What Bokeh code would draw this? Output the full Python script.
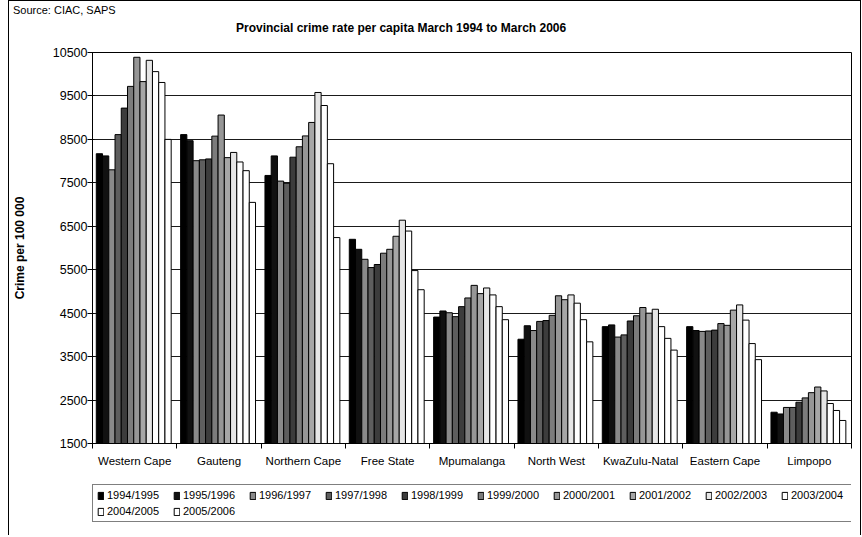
from bokeh.plotting import figure
from bokeh.layouts import column
from bokeh.models import (Range1d, FixedTicker, Legend, LegendItem, ColumnDataSource, Div)
from bokeh.embed import file_html
from bokeh.resources import INLINE

provinces = ["Western Cape", "Gauteng", "Northern Cape", "Free State", "Mpumalanga",
             "North West", "KwaZulu-Natal", "Eastern Cape", "Limpopo"]
years = ["1994/1995", "1995/1996", "1996/1997", "1997/1998", "1998/1999", "1999/2000",
         "2000/2001", "2001/2002", "2002/2003", "2003/2004", "2004/2005", "2005/2006"]

western_cape = [8170, 8120, 7800, 8610, 9220, 9720, 10390, 9830, 10320, 10060, 9810, 8500]
gauteng = [8610, 8470, 8010, 8030, 8050, 8575, 9060, 8080, 8200, 7980, 7780, 7050]
northern_cape = [7670, 8120, 7540, 7490, 8090, 8330, 8580, 8890, 9580, 9280, 7940, 6240]
free_state = [6200, 5970, 5740, 5550, 5620, 5880, 5970, 6270, 6640, 6390, 5480, 5040]
mpumalanga = [4410, 4550, 4510, 4420, 4650, 4850, 5140, 4950, 5080, 4920, 4650, 4350]
north_west = [3900, 4210, 4100, 4310, 4330, 4450, 4900, 4810, 4920, 4730, 4350, 3840]
kwazulu_natal = [4190, 4230, 3950, 4000, 4320, 4440, 4630, 4500, 4590, 4190, 3920, 3650]
eastern_cape = [4190, 4100, 4080, 4090, 4110, 4260, 4220, 4570, 4690, 4340, 3800, 3430]
limpopo = [2220, 2180, 2330, 2330, 2450, 2550, 2670, 2800, 2710, 2420, 2260, 2030]

rows = [western_cape, gauteng, northern_cape, free_state, mpumalanga,
        north_west, kwazulu_natal, eastern_cape, limpopo]

y_ticks = [1500, 2500, 3500, 4500, 5500, 6500, 7500, 8500, 9500, 10500]
baseline = 1500

colors = ["#000000", "#111111", "#8a8a8a", "#5e5e5e", "#3c3c3c", "#7c7c7c",
          "#969696", "#a6a6a6", "#e6e6e6", "#ffffff", "#ffffff", "#ffffff"]

FONT = "Liberation Sans"
W = 851

# source line and chart title at the top
src_div = Div(text="Source: CIAC, SAPS", width=W - 4, height=14, margin=(2, 0, 0, 4),
              styles={"font-family": FONT, "font-size": "11px", "line-height": "14px",
                      "color": "black", "white-space": "nowrap"})
title_div = Div(text="Provincial crime rate per capita March 1994 to March 2006",
                width=W - 227, height=14, margin=(4, 0, 0, 227),
                styles={"font-family": FONT, "font-size": "12px", "font-weight": "bold",
                        "line-height": "14px", "color": "black", "white-space": "nowrap"})

p = figure(width=W, height=438, output_backend="svg", toolbar_location=None,
           x_range=Range1d(0, len(provinces)), y_range=Range1d(1500, 10500),
           min_border_left=79, min_border_right=9, min_border_top=17, min_border_bottom=30)
p.background_fill_color = "white"
p.border_fill_color = "white"
p.outline_line_color = "black"
p.outline_line_width = 1

# grid
p.xgrid.grid_line_color = None
p.ygrid.grid_line_color = "#1a1a1a"
p.ygrid.grid_line_width = 1
p.ygrid.ticker = FixedTicker(ticks=y_ticks)

# y axis
p.yaxis.ticker = FixedTicker(ticks=y_ticks)
p.yaxis.axis_label = "Crime per 100 000"
p.yaxis.axis_label_text_font = FONT
p.yaxis.axis_label_text_font_style = "bold"
p.yaxis.axis_label_text_font_size = "12px"
p.yaxis.axis_label_text_color = "black"
p.yaxis.axis_label_standoff = 23
p.yaxis.major_label_text_font = FONT
p.yaxis.major_label_text_font_size = "12.5px"
p.yaxis.major_label_text_color = "black"
p.yaxis.major_label_standoff = 0
p.yaxis.major_tick_out = 5
p.yaxis.major_tick_in = 2
p.yaxis.minor_tick_line_color = None
p.yaxis.axis_line_color = "black"
p.yaxis.major_tick_line_color = "black"

# x axis: labels at centres, ticks at category boundaries
centers = [i + 0.5 for i in range(len(provinces))]
bounds = list(range(len(provinces) + 1))
p.xaxis.ticker = FixedTicker(ticks=centers, minor_ticks=bounds)
p.xaxis.major_label_overrides = {c: name for c, name in zip(centers, provinces)}
p.xaxis.major_tick_line_color = None
p.xaxis.minor_tick_out = 5
p.xaxis.minor_tick_in = 0
p.xaxis.minor_tick_line_color = "black"
p.xaxis.major_label_text_font = FONT
p.xaxis.major_label_text_font_size = "11.5px"
p.xaxis.major_label_text_color = "black"
p.xaxis.major_label_standoff = 5
p.xaxis.axis_line_color = "black"

# bars
group_start = 0.045
bar_w = 0.074
for j, yr in enumerate(years):
    xs = [i + group_start + bar_w * (j + 0.5) for i in range(len(provinces))]
    tops = [r[j] for r in rows]
    src = ColumnDataSource(dict(x=xs, top=tops))
    p.vbar(x="x", top="top", bottom=baseline, width=bar_w, source=src,
           fill_color=colors[j], line_color="black", line_width=1)

# legend strip below the chart (frame is aligned with the chart frame by the column)
pl = figure(width=W, height=62, output_backend="svg", toolbar_location=None,
            x_range=Range1d(0, 1), y_range=Range1d(0, 1),
            x_axis_location=None, y_axis_location=None,
            min_border_left=0, min_border_right=0, min_border_top=0, min_border_bottom=0)
pl.outline_line_color = None
pl.xgrid.grid_line_color = None
pl.ygrid.grid_line_color = None
items = []
for j, yr in enumerate(years):
    # legend swatch proxy: a single entry placed outside the visible range
    rr = pl.vbar(x=[-10], top=[-10], bottom=-11, width=0.1,
                 fill_color=colors[j], line_color="black", line_width=1)
    items.append(LegendItem(label=yr, renderers=[rr]))

legend = Legend(items=items, orientation="horizontal", ncols=10, location=(0, 13),
                label_text_font=FONT, label_text_font_size="11px", label_text_color="black",
                glyph_width=7, glyph_height=9, label_standoff=3, label_width=62,
                spacing=4, padding=4, margin=0,
                border_line_color="black", border_line_width=1,
                background_fill_color="white", background_fill_alpha=1)
pl.add_layout(legend)

layout = column(src_div, title_div, p, pl, margin=(0, 0, 0, 8),
                styles={"border-left": "1px solid black", "border-top": "1px solid black",
                        "border-right": "1px solid black"})

open("out.html", "w").write(file_html(layout, INLINE))
